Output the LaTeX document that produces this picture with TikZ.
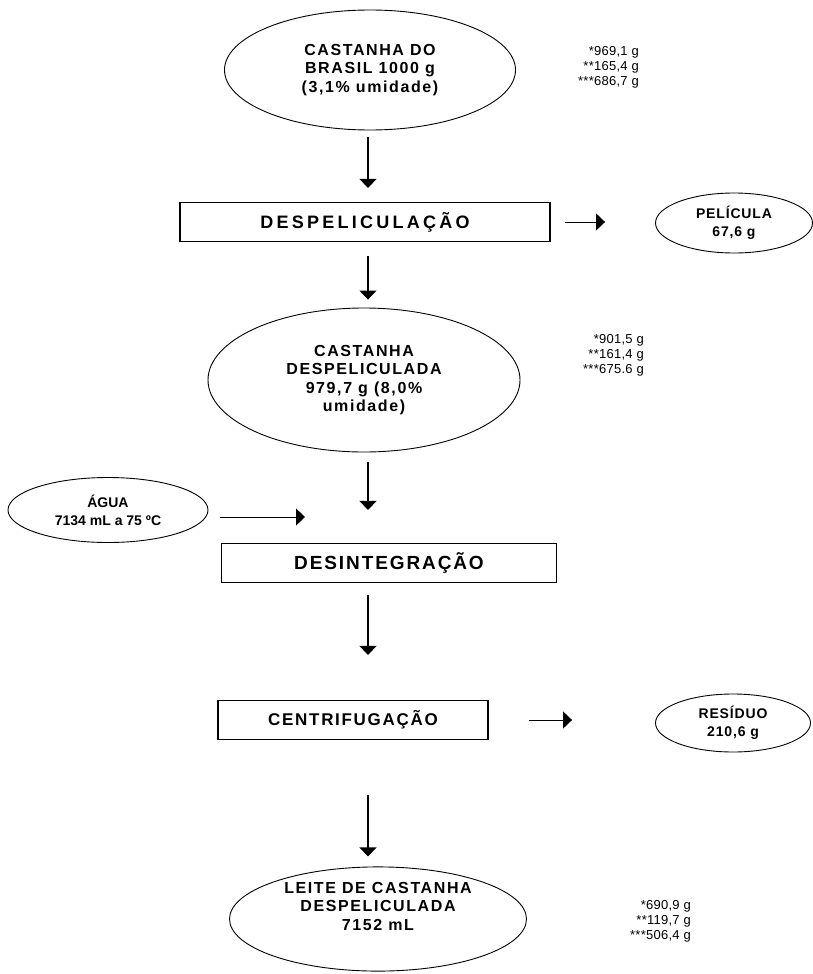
\documentclass[tikz,border=0pt]{standalone}
\usepackage{fontspec}
\setmainfont{Liberation Sans}
\newfontfamily\flowfont{Liberation Sans}[LetterSpace=10]
\newfontfamily\wideflowfont{Liberation Sans}[LetterSpace=18]
\newfontfamily\sidefont{Liberation Sans}[LetterSpace=6]
\newfontfamily\notefont{Liberation Sans}[LetterSpace=2]
\usetikzlibrary{shapes.geometric,arrows.meta,positioning,calc}

\begin{document}
\begin{tikzpicture}[
    x=1pt, y=-1pt,
    stage/.style={ellipse, draw, line width=0.9pt, inner sep=0pt, align=center,
                 font=\flowfont\bfseries\fontsize{16}{18.5}\selectfont},
    sidestage/.style={stage, font=\sidefont\bfseries\fontsize{14}{18}\selectfont},
    opbox/.style={rectangle, draw, line width=1.1pt, inner sep=0pt, align=center,
                 minimum height=39pt, font=\wideflowfont\bfseries\fontsize{18}{22}\selectfont},
    note/.style={align=right, anchor=east, inner sep=0pt,
                 font=\notefont\fontsize{13}{15}\selectfont},
    arr/.style={-{Triangle[length=9pt, width=17pt]}, line width=1.2pt}
]
\useasboundingbox (0,0) rectangle (813,974);
\coordinate (axis) at (368,0);

% main line
\node[stage, minimum width=291pt, minimum height=120pt] (castanha) at (370,70)
    {CASTANHA DO\\BRASIL 1000 g\\(3,1\% umidade)};
\node[opbox, minimum width=370pt] (despel) at (365,222) {DESPELICULAÇÃO};
\node[stage, minimum width=312pt, minimum height=144pt] (despeliculada) at (364,380)
    {CASTANHA\\DESPELICULADA\\979,7 g (8,0\%\\umidade)};
\node[opbox, minimum width=335pt, font=\flowfont\bfseries\fontsize{19}{23}\selectfont]
    (desint) at (389,563) {DESINTEGRAÇÃO};
\node[opbox, minimum width=270pt, font=\flowfont\bfseries\fontsize{17}{21}\selectfont]
    (centrif) at (353,720) {CENTRIFUGAÇÃO};
\node[stage, minimum width=297pt, minimum height=104pt] (leite) at (378,919)
    {LEITE DE CASTANHA\\DESPELICULADA\\7152 mL\\[7pt]\mbox{}};

% side streams
\node[sidestage, minimum width=157pt, minimum height=60pt] (pelicula) at (734,223)
    {PELÍCULA\\67,6 g};
\node[sidestage, minimum width=200pt, minimum height=65pt,
      font=\bfseries\fontsize{14}{18}\selectfont] (agua) at (108,510)
    {ÁGUA\\7134 mL a 75 ºC};
\node[sidestage, minimum width=155pt, minimum height=58pt] (residuo) at (733,723)
    {RESÍDUO\\210,6 g};
\coordinate (aguaend) at (305,517);

% notes
\node[note] (n1) at (639,67) {*969,1 g\\**165,4 g\\***686,7 g};
\node[note] (n2) at (644,355) {*901,5 g\\**161,4 g\\***675.6 g};
\node[note] (n3) at (691,921) {*690,9 g\\**119,7 g\\***506,4 g};

\draw[arr, shorten <=7pt, shorten >=14pt] (castanha.south -| axis) -- (despel.north -| axis);
\draw[arr, shorten <=14pt, shorten >=8pt] (despel.south -| axis) -- (despeliculada.north -| axis);
\draw[arr, shorten <=10pt, shorten >=33pt] (despeliculada.south -| axis) -- (desint.north -| axis);
\draw[arr, shorten <=12pt, shorten >=45pt] (desint.south -| axis) -- (centrif.north -| axis);
\draw[arr, shorten <=55pt, shorten >=10pt] (centrif.south -| axis) -- (leite.north -| axis);

\draw[arr, line width=1pt, shorten <=14pt, shorten >=50pt] (despel.east) -- (despel.east -| pelicula.west);
\draw[arr, line width=1pt, shorten <=12pt] (agua.east |- aguaend) -- (aguaend);
\draw[arr, line width=1pt, shorten <=40pt, shorten >=83pt] (centrif.east) -- (centrif.east -| residuo.west);
\end{tikzpicture}
\end{document}
